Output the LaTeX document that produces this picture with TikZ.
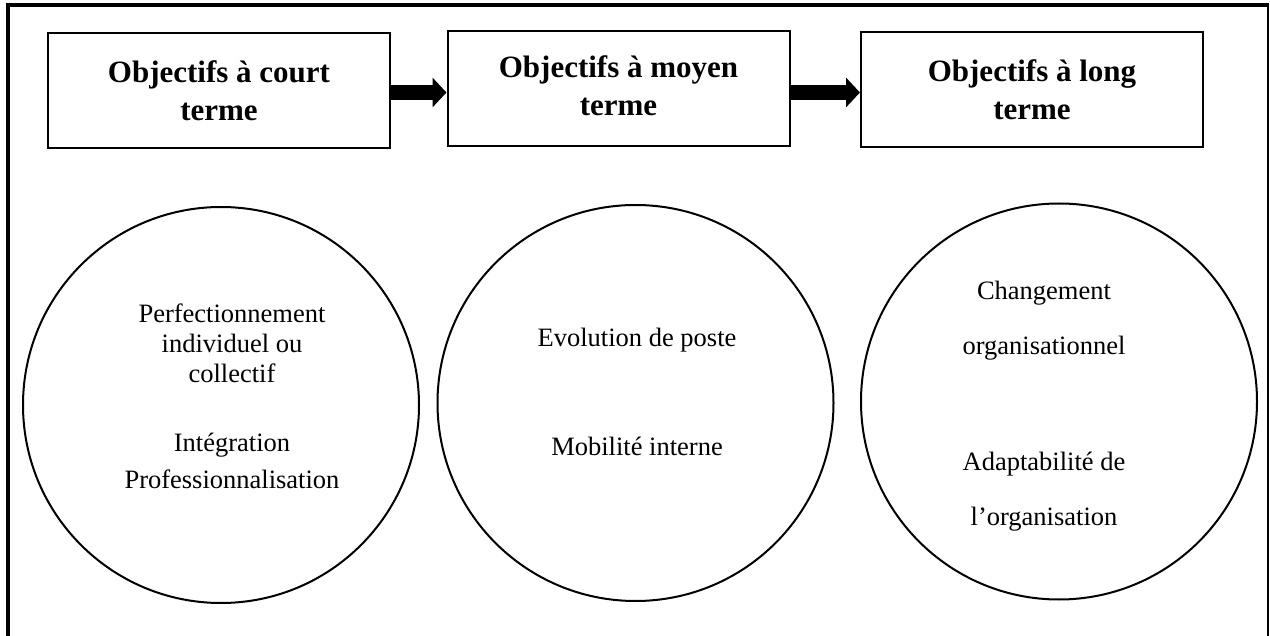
\documentclass[tikz,border=0pt]{standalone}
\usepackage{fontspec}
\setmainfont{Liberation Serif}
\usetikzlibrary{arrows.meta}
\begin{document}
\begin{tikzpicture}[x=1pt,y=-1pt,
  frame/.style={line width=4pt},
  goalbox/.style={draw, line width=2pt, rectangle, minimum width=342pt, minimum height=115pt,
    align=center, font=\fontsize{31}{38}\selectfont\bfseries},
  goalcircle/.style={draw, line width=2pt, circle, minimum size=396pt, inner sep=0pt},
  item/.style={anchor=base, inner sep=0pt, font=\fontsize{26.5}{30}\selectfont},
  bigarrow/.style={line width=15pt, -{Triangle[length=14pt,width=29pt]}}
]
\useasboundingbox (0,0) rectangle (1270,636);

% outer frame (open at the bottom)
\draw[frame] (8,640) -- (8,5) -- (1269,5);
\draw[line width=1.6pt] (1268,5) -- (1268,640);

% objective boxes
\node[goalbox] (court) at (219,90.5) {Objectifs à court\\terme};
\node[goalbox, text depth=6pt] (moyen) at (618.5,88.5) {Objectifs à moyen\\terme};
\node[goalbox] (long) at (1032,90) {Objectifs à long\\terme};

% block arrows between the boxes
\draw[bigarrow] ([yshift=-2pt]court.east) -- ([yshift=-2pt]court.east -| moyen.west);
\draw[bigarrow] ([yshift=-4pt]moyen.east) -- ([yshift=-4pt]moyen.east -| long.west);

% circles
\node[goalcircle] (c1) at (221,405) {};
\node[goalcircle] (c2) at (635.5,403) {};
\node[goalcircle] (c3) at (1059,401.5) {};

% short-term contents
\node[item] (t11) at (232,323) {Perfectionnement};
\node[item] (t12) at (232,353) {individuel ou};
\node[item] (t13) at (232,383) {collectif};
\node[item] (t14) at (232,452) {Intégration};
\node[item] (t15) at (232,488) {Professionnalisation};

% medium-term contents
\node[item] (t21) at (637,347) {Evolution de poste};
\node[item] (t22) at (637,455) {Mobilité interne};

% long-term contents
\node[item] (t31) at (1044,300) {Changement};
\node[item] (t32) at (1044,355) {organisationnel};
\node[item] (t33) at (1044,470) {Adaptabilité de};
\node[item] (t34) at (1044,525) {l’organisation};
\end{tikzpicture}
\end{document}
